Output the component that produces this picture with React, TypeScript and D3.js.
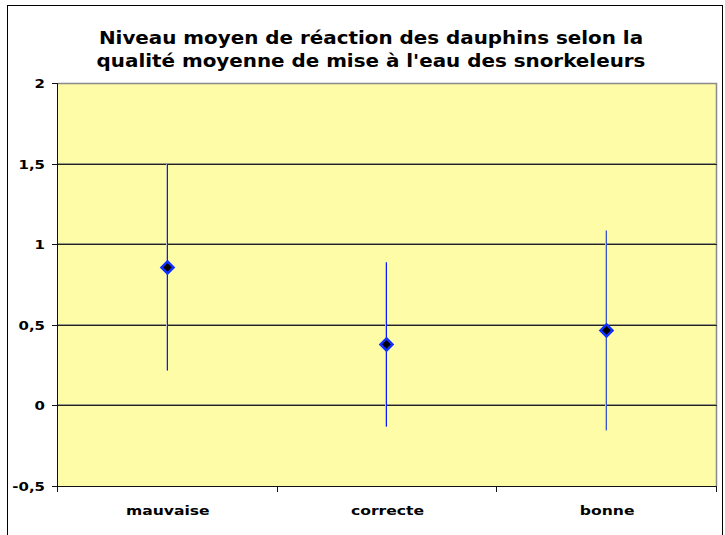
import React from "react";
import * as d3 from "d3";

const categories = ["mauvaise", "correcte", "bonne"];
const means = [0.856, 0.378, 0.465];
const errors = [0.64, 0.51, 0.62];
const yTicks = [-0.5, 0, 0.5, 1, 1.5, 2];
const titleLines = [
  "Niveau moyen de réaction des dauphins selon la",
  "qualité moyenne de mise à l'eau des snorkeleurs",
];

const W = 725;
const H = 535;
const plot = { left: 58, right: 717, top: 83, bottom: 486 };
const font = "'DejaVu Sans', Verdana, sans-serif";
const barColors = ["#0a1cff", "#0a1cff", "#3a58d0"];

export default function App() {
  const x = d3
    .scaleBand<string>()
    .domain(categories)
    .range([plot.left, plot.right])
    .padding(0);
  const y = d3.scaleLinear().domain([-0.5, 2]).range([plot.bottom, plot.top]);
  const fmt = (v: number) => String(v).replace(".", ",");
  const boundaries = d3.range(categories.length + 1).map((i) => plot.left + i * x.bandwidth());

  return (
    <svg
      width={W}
      height={H}
      style={{ position: "absolute", left: 0, top: 0, background: "#fff" }}
    >
      {/* outer border */}
      <rect x={7.5} y={5.5} width={715} height={560} fill="none" stroke="#000" strokeWidth={1} />
      {/* title */}
      {titleLines.map((t, i) => (
        <text
          key={i}
          transform={`translate(371,${44 + i * 23}) scale(1.17,1)`}
          textAnchor="middle"
          fontFamily={font}
          fontWeight="bold"
          fontSize={17}
          fill="#000"
        >
          {t}
        </text>
      ))}
      {/* plot background */}
      <rect
        x={plot.left}
        y={plot.top}
        width={plot.right - plot.left}
        height={plot.bottom - plot.top}
        fill="#FFFCA8"
      />
      {/* plot border top/right (gray) */}
      <path
        d={`M${plot.left},${plot.top + 0.5}H${plot.right - 0.5}V${plot.bottom}`}
        fill="none"
        stroke="#8a8a8a"
        strokeWidth={1.5}
      />
      {/* gridlines */}
      {yTicks.slice(1, -1).map((v) => (
        <g key={v}>
          <line x1={plot.left} x2={plot.right} y1={Math.round(y(v)) - 0.5} y2={Math.round(y(v)) - 0.5} stroke="#9a9a80" />
          <line x1={plot.left} x2={plot.right} y1={Math.round(y(v)) + 0.5} y2={Math.round(y(v)) + 0.5} stroke="#222" />
        </g>
      ))}
      {/* error bars */}
      {categories.map((c, i) => {
        const cx = Math.round((x(c) as number) + x.bandwidth() / 2);
        const y1 = y(means[i] + errors[i]);
        const y2 = y(means[i] - errors[i]);
        return (
          <g key={c}>
            <line x1={cx - 1.5} x2={cx - 1.5} y1={y1} y2={y2} stroke="#c0c0c8" strokeWidth={1} />
            <line x1={cx - 0.5} x2={cx - 0.5} y1={y1} y2={y2} stroke={barColors[i]} strokeWidth={1} />
          </g>
        );
      })}
      {/* markers */}
      {categories.map((c, i) => {
        const cx = Math.round((x(c) as number) + x.bandwidth() / 2) - 0.5;
        const cy = y(means[i]);
        const r = 6;
        return (
          <path
            key={c}
            d={`M${cx},${cy - r}L${cx + r},${cy}L${cx},${cy + r}L${cx - r},${cy}Z`}
            fill="#000"
            stroke="#1030ff"
            strokeWidth={2.5}
          />
        );
      })}
      {/* y axis */}
      <line x1={plot.left - 0.5} x2={plot.left - 0.5} y1={plot.top} y2={plot.bottom + 1} stroke="#111" />
      {yTicks.map((v) => (
        <g key={v}>
          <line x1={plot.left - 6} x2={plot.left} y1={Math.round(y(v)) + 0.5} y2={Math.round(y(v)) + 0.5} stroke="#111" />
          <text
            transform={`translate(45,${y(v) + 5}) scale(1.15,1)`}
            textAnchor="end"
            fontFamily={font}
            fontWeight="bold"
            fontSize={13}
            fill="#000"
          >
            {fmt(v)}
          </text>
        </g>
      ))}
      {/* x axis */}
      <line x1={plot.left - 6} x2={plot.right} y1={plot.bottom + 0.5} y2={plot.bottom + 0.5} stroke="#111" />
      {boundaries.map((bx, i) => (
        <line key={i} x1={Math.round(bx) - 0.5} x2={Math.round(bx) - 0.5} y1={plot.bottom} y2={plot.bottom + 6} stroke="#111" />
      ))}
      {categories.map((c) => (
        <text
          key={c}
          transform={`translate(${(x(c) as number) + x.bandwidth() / 2},515) scale(1.2,1)`}
          textAnchor="middle"
          fontFamily={font}
          fontWeight="bold"
          fontSize={13}
          fill="#000"
        >
          {c}
        </text>
      ))}
    </svg>
  );
}
